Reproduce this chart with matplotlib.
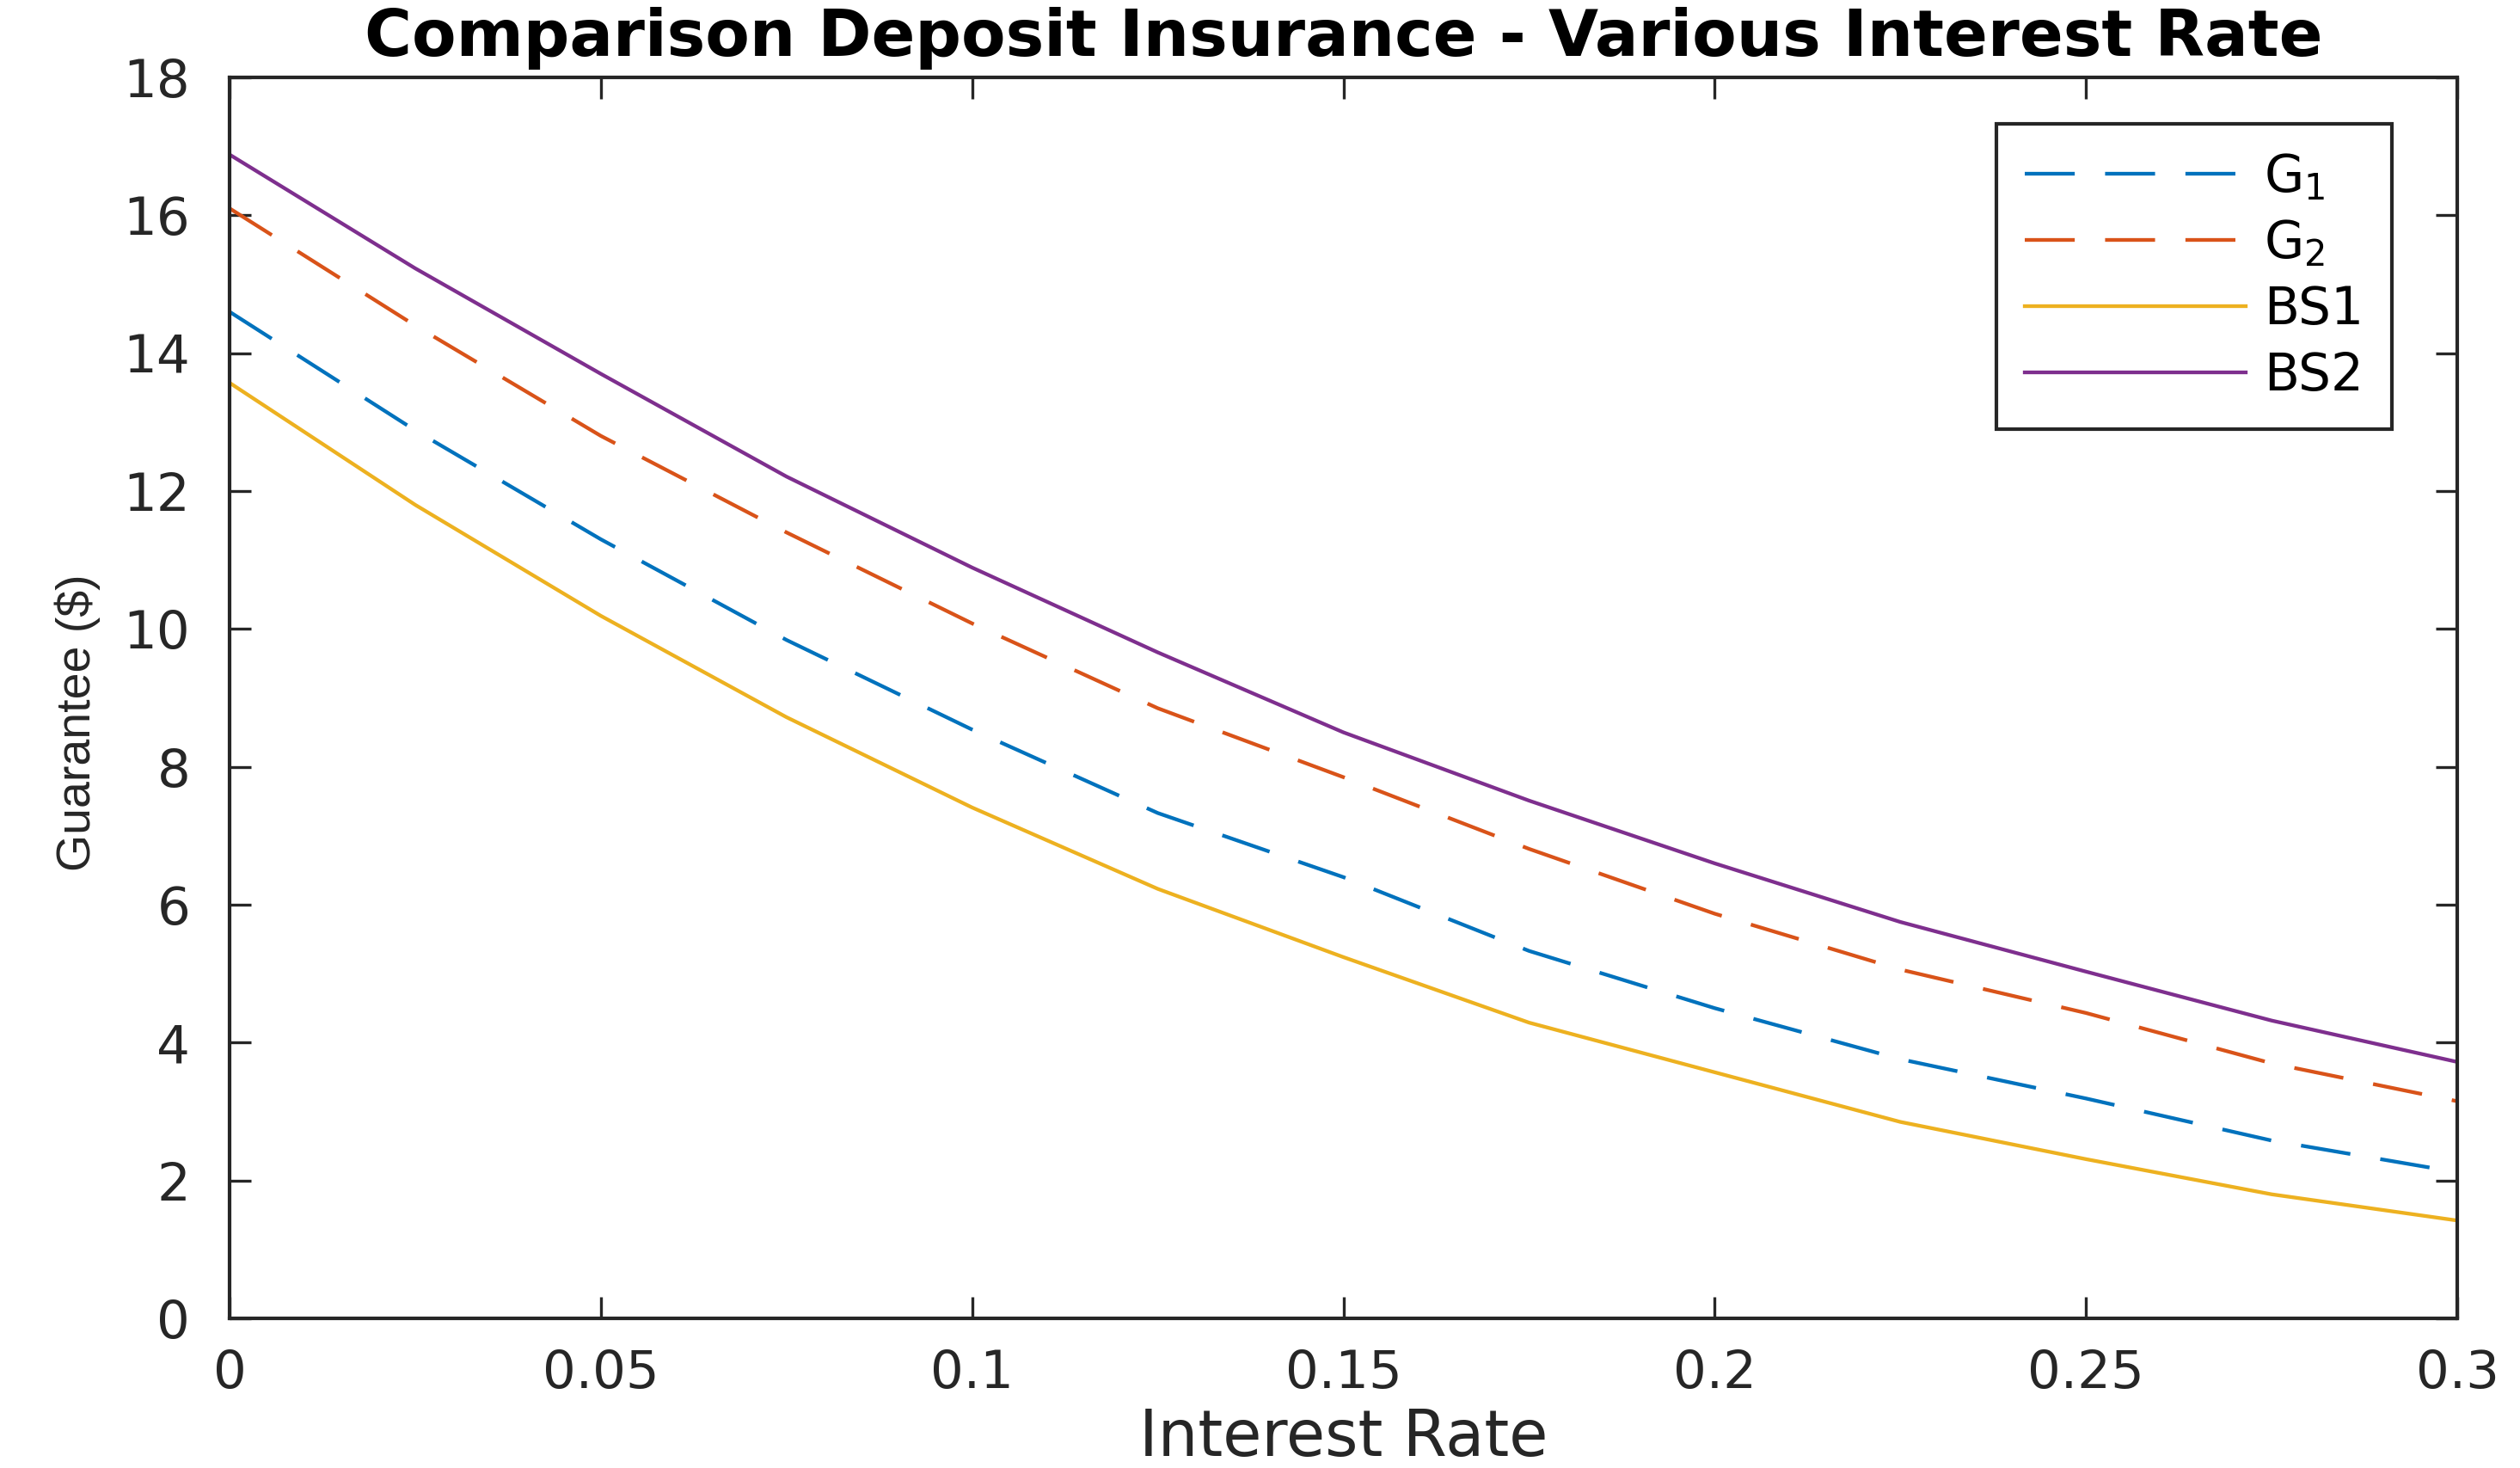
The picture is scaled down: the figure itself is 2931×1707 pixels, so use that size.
import matplotlib
matplotlib.use("Agg")
import matplotlib.pyplot as plt
from matplotlib import font_manager as fm

plt.rcParams['font.family'] = ['DejaVu Sans']
plt.rcParams['mathtext.fontset'] = 'dejavusans'

names = {f.name for f in fm.fontManager.ttflist}
if 'Liberation Sans Narrow' in names:
    ylab_family, ylab_size = ['Liberation Sans Narrow', 'DejaVu Sans'], 49
else:
    ylab_family, ylab_size = ['Liberation Sans', 'DejaVu Sans'], 40

# Data
rate = [0.0, 0.025, 0.05, 0.075, 0.1, 0.125, 0.15, 0.175, 0.2, 0.225, 0.25, 0.275, 0.3]
g1 = [14.6, 12.88, 11.3, 9.84, 8.54, 7.33, 6.40, 5.33, 4.5, 3.76, 3.19, 2.58, 2.12]
g2 = [16.1, 14.40, 12.8, 11.40, 10.08, 8.85, 7.85, 6.81, 5.87, 5.06, 4.43, 3.70, 3.15]
bs1 = [13.57, 11.80, 10.19, 8.72, 7.41, 6.23, 5.24, 4.29, 3.57, 2.85, 2.31, 1.80, 1.42]
bs2 = [16.88, 15.23, 13.7, 12.21, 10.89, 9.66, 8.5, 7.51, 6.6, 5.75, 5.03, 4.32, 3.72]

xticks = [0, 0.05, 0.1, 0.15, 0.2, 0.25, 0.3]
xticklabels = ['0', '0.05', '0.1', '0.15', '0.2', '0.25', '0.3']
yticks = [0, 2, 4, 6, 8, 10, 12, 14, 16, 18]

labels = [r'G$_{\mathregular{1}}$', r'G$_{\mathregular{2}}$', 'BS1', 'BS2']
colors = ['#0072BD', '#D95319', '#EDB120', '#7E2F8E']

TXT = '#262626'

fig = plt.figure(figsize=(29.31, 17.07), dpi=100)
ax = fig.add_axes([0.0911, 0.1019, 0.9751 - 0.0911, 0.9473 - 0.1019])

lw = 3.1
l1, = ax.plot(rate, g1, color=colors[0], lw=lw, label=labels[0])
l1.set_dashes((13.5, 8.2))
l2, = ax.plot(rate, g2, color=colors[1], lw=lw, label=labels[1])
l2.set_dashes((13.5, 8.2))
ax.plot(rate, bs1, color=colors[2], lw=lw, label=labels[2])
ax.plot(rate, bs2, color=colors[3], lw=lw, label=labels[3])

ax.set_xlim(0, 0.3)
ax.set_ylim(0, 18)
ax.set_xticks(xticks)
ax.set_xticklabels(xticklabels)
ax.set_yticks(yticks)

for s in ax.spines.values():
    s.set_linewidth(3.0)
    s.set_color(TXT)

ax.tick_params(direction='in', length=18, width=2.4, colors=TXT,
               top=True, right=True, labelsize=44, labelcolor=TXT)
ax.tick_params(axis='x', pad=25)
ax.tick_params(axis='y', pad=33)

ax.set_title('Comparison Deposit Insurance - Various Interest Rate',
             fontsize=54, fontweight='bold', color='black', pad=18)
ax.set_xlabel('Interest Rate', fontsize=53, color=TXT)
ax.xaxis.label.set_verticalalignment('baseline')
ax.xaxis.set_label_coords(0.5, -0.1109)
ax.set_ylabel('Guarantee ($)', fontsize=ylab_size, color=TXT, family=ylab_family)
ax.yaxis.set_label_coords(-0.058, 0.48)

leg = ax.legend(loc='upper right', bbox_to_anchor=(2782 / 2931, 1 - 144 / 1707),
                bbox_transform=fig.transFigure, fontsize=43, frameon=True,
                fancybox=False, framealpha=1, edgecolor=TXT,
                handlelength=4.3, handletextpad=0.35, borderpad=0.55,
                labelspacing=0.3, borderaxespad=0)
leg.get_frame().set_linewidth(3.0)
for t in leg.get_texts():
    t.set_color('black')

fig.savefig('out.png', dpi=100)
